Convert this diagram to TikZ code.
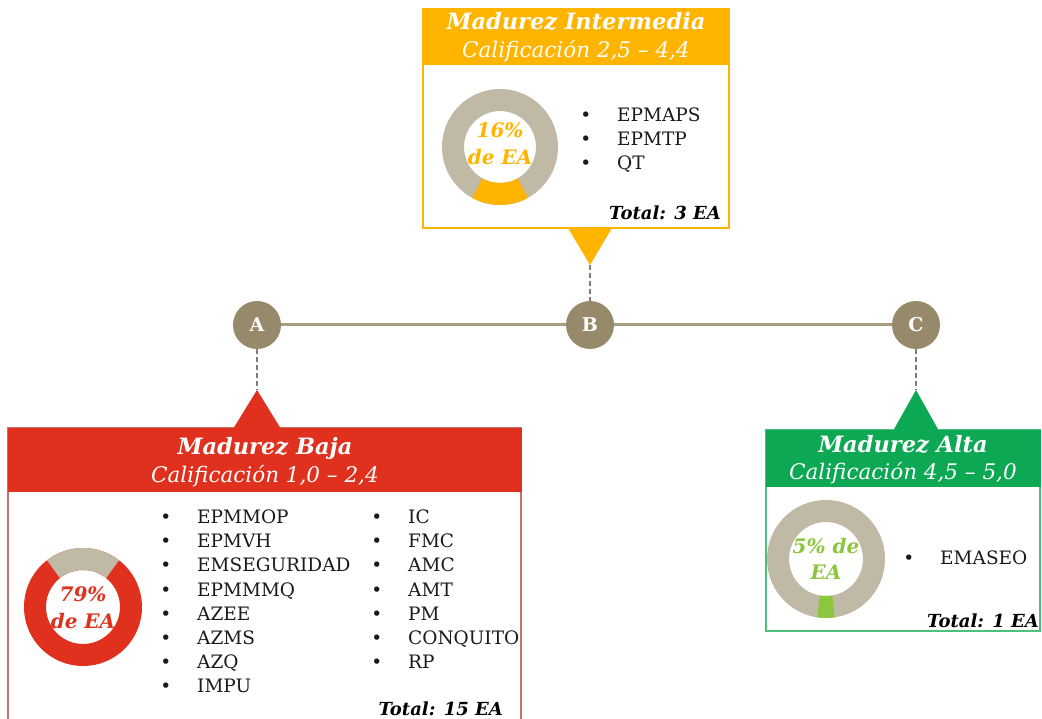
\documentclass[tikz,border=0pt]{standalone}
\usepackage{fontspec}
\setmainfont{DejaVu Serif}
\definecolor{ora}{HTML}{FFB500}
\definecolor{redd}{HTML}{E0301E}
\definecolor{redline}{HTML}{C9706A}
\definecolor{grn}{HTML}{0DA853}
\definecolor{grnline}{HTML}{4CC07F}
\definecolor{lgrn}{HTML}{8CC63E}
\definecolor{khaki}{HTML}{968A6B}
\definecolor{khline}{HTML}{A89C7F}
\definecolor{ring}{HTML}{C0B9A6}
\definecolor{dashc}{HTML}{7F7F7F}
\definecolor{ink}{HTML}{1A1A1A}
\tikzset{
  milestone/.style={circle, fill=khaki, minimum size=48pt, inner sep=0pt,
    text=white, font=\bfseries\fontsize{19}{19}\selectfont},
  hdrbox/.style={rectangle, inner sep=0pt},
  bodybox/.style={rectangle, inner sep=0pt, line width=1.2pt},
  title/.style={anchor=base, text=white, inner sep=0pt,
    font=\bfseries\itshape\fontsize{22.5}{22.5}\selectfont},
  subtitle/.style={anchor=base, text=white, inner sep=0pt,
    font=\itshape\fontsize{21.5}{21.5}\selectfont},
  item/.style={anchor=base west, inner sep=0pt, text=ink,
    font=\fontsize{18.5}{18.5}\selectfont},
  total/.style={anchor=base east, inner sep=0pt, text=black,
    font=\bfseries\itshape\fontsize{18}{18}\selectfont},
  pct/.style={anchor=base, inner sep=0pt,
    font=\bfseries\itshape\fontsize{20}{20}\selectfont},
  dashline/.style={dashc, line width=1.6pt, dash pattern=on 5pt off 3pt},
  ringline/.style={line width=22pt},
}
\newcommand{\bul}[1]{\llap{\textbullet\hspace{26pt}}#1}
\begin{document}
\begin{tikzpicture}[x=1pt, y=-1pt]
\useasboundingbox (0,0) rectangle (1042,719);

% ---- timeline ----
\node[milestone] (A) at (257,325) {A};
\node[milestone] (B) at (590,325) {B};
\node[milestone] (C) at (916,325) {C};
\draw[khline, line width=3pt] (A) -- (B);
\draw[khline, line width=3pt] (B) -- (C);

% ---- intermediate maturity panel (top) ----
\node[bodybox, draw=ora, fill=white, minimum width=306pt, minimum height=219pt] (midbody) at (576,118.5) {};
\node[hdrbox, fill=ora, minimum width=307pt, minimum height=56pt] (midhead) at (576,37) {};
\node[title] (midtitle) at (576,30) {Madurez Intermedia};
\node[subtitle] (midsub) at (576,58) {Calificación 2,5 – 4,4};
\coordinate (midtip) at (590,265);
\fill[ora] (568,228) -- (midtip) -- (612,228) -- cycle;
\draw[dashline] (midtip) -- (B);

% donut 16%
\draw[ringline, ring] (500,147) circle[radius=47];
\draw[ringline, ora] (500,147) ++(61:47) arc[start angle=61, end angle=119, radius=47];
\node[pct, text=ora] (midp1) at (500,138) {16\%};
\node[pct, text=ora] (midp2) at (500,165) {de EA};

\node[item] (m1) at (617,121.5) {\bul{EPMAPS}};
\node[item] (m2) at (617,145.7) {\bul{EPMTP}};
\node[item] (m3) at (617,169.9) {\bul{QT}};
\node[total] (midtot) at (721,220) {Total: 3 EA};

% ---- low maturity panel (left) ----
\node[bodybox, draw=redline, fill=white, minimum width=513pt, minimum height=300pt] (lowbody) at (264.5,578) {};
\node[hdrbox, fill=redd, minimum width=514pt, minimum height=64pt] (lowhead) at (264.5,460) {};
\node[title] (lowtitle) at (265,454) {Madurez Baja};
\node[subtitle] (lowsub) at (265,482) {Calificación 1,0 – 2,4};
\coordinate (lowtip) at (257,390);
\fill[redd] (233,429) -- (lowtip) -- (281,429) -- cycle;
\draw[dashline] (A) -- (lowtip);

% donut 79%
\draw[ringline, redd] (83,607) circle[radius=48];
\draw[ringline, ring] (83,607) ++(232:48) arc[start angle=232, end angle=308, radius=48];
\node[pct, text=redd] (lowp1) at (83,601) {79\%};
\node[pct, text=redd] (lowp2) at (83,628) {de EA};

\foreach \name [count=\i] in {EPMMOP,EPMVH,EMSEGURIDAD,EPMMMQ,AZEE,AZMS,AZQ,IMPU}
  \node[item] (la\i) at (197,{523.5+24.2*(\i-1)}) {\bul{\name}};
\foreach \name [count=\i] in {IC,FMC,AMC,AMT,PM,CONQUITO,RP}
  \node[item] (lb\i) at (408,{523.5+24.2*(\i-1)}) {\bul{\name}};
\node[total] (lowtot) at (503,715) {Total: 15 EA};

% ---- high maturity panel (right) ----
\node[bodybox, draw=grnline, fill=white, minimum width=274pt, minimum height=201pt] (highbody) at (903,530.5) {};
\node[hdrbox, fill=grn, minimum width=275pt, minimum height=57pt] (highhead) at (903,458.5) {};
\node[title] (hightitle) at (903,452) {Madurez Alta};
\node[subtitle] (highsub) at (903,479) {Calificación 4,5 – 5,0};
\coordinate (hightip) at (916,390);
\fill[grn] (893,431) -- (hightip) -- (939,431) -- cycle;
\draw[dashline] (C) -- (hightip);

% donut 5%
\draw[ringline, ring] (826,559) circle[radius=48];
\draw[ringline, lgrn] (826,559) ++(81:48) arc[start angle=81, end angle=99, radius=48];
\node[pct, text=lgrn] (highp1) at (826,553) {5\% de};
\node[pct, text=lgrn] (highp2) at (826,579) {EA};

\node[item] (h1) at (940,564.5) {\bul{EMASEO}};
\node[total] (hightot) at (1039,627) {Total: 1 EA};
\end{tikzpicture}
\end{document}
